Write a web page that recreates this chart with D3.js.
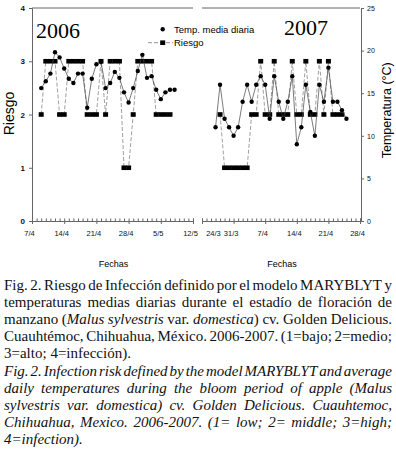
<!DOCTYPE html>
<html>
<head>
<meta charset="utf-8">
<script src="https://cdnjs.cloudflare.com/ajax/libs/d3/7.8.5/d3.min.js"></script>
<style>
  body { margin: 0; background: #fff; }
  svg { display: block; }
</style>
</head>
<body>
<div id="chart"></div>
<script>
// datos 2006 (un valor por día desde el 9/4)
const inicio2006 = new Date(2006, 3, 9);
const temp2006 = [15.6, 16.4, 17.3, 19.8, 19.2, 17.9, 16.7, 16.2, 17.3, 17.3,
                  13.3, 16.7, 18.4, 18.7, 15.6, 16.2, 17.5, 16.8, 15.1, 13.9,
                  15.6, 17.6, 19.5, 16.8, 17.0, 15.4, 14.3, 15.1, 15.4, 15.4];
const riesgo2006 = [2, 3, 3, 3, 2, 2, 3, 3, 3, 3,
                    2, 2, 2, 3, 2, 3, 3, 3, 1, 1,
                    2, 3, 3, 3, 3, 2, 2, 2, 2, null];

// datos 2007 (un valor por día desde el 27/3)
const inicio2007 = new Date(2007, 2, 27);
const temp2007 = [11, 16, 12, 11, 10, 11, 14, 16, 14, 16,
                  17, 16, 12, 17, 14, 12, 14, 17, 9, 11,
                  16, 12.8, 10, 16, 14, 18, 14, 14, 13, 12];
const riesgo2007 = [null, 2, 1, 1, 1, 1, 1, 1, 2, 2,
                    3, 2, 2, 3, 2, 2, 2, 3, 2, 2,
                    3, 2, 2, 3, 2, 3, 2, 2, 2, null];

const fechas2006 = ["7/4", "14/4", "21/4", "28/4", "5/5", "12/5"];
const fechas2007 = ["24/3", "31/3", "7/4", "14/4", "21/4", "28/4"];
const ticksRiesgo = [0, 1, 2, 3, 4];
const ticksTemp = [0, 5, 10, 15, 20, 25];

const leyenda = ["Temp. media diaria", "Riesgo"];

const caption = [
  { t: "Fig. 2. Riesgo de Infección definido por el modelo MARYBLYT y", j: true },
  { t: "temperaturas medias diarias durante el estadío de floración de", j: true },
  { t: "manzano (*Malus sylvestris* var. *domestica*) cv. Golden Delicious.", j: true },
  { t: "Cuauhtémoc, Chihuahua, México. 2006-2007. (1=bajo; 2=medio;", j: true },
  { t: "3=alto; 4=infección).", j: false },
  { t: "*Fig. 2. Infection risk defined by the model MARYBLYT and average", j: true },
  { t: "*daily temperatures during the bloom period of apple (Malus", j: true },
  { t: "*sylvestris var. domestica) cv. Golden Delicious. Cuauhtemoc,", j: true },
  { t: "*Chihuahua, Mexico. 2006-2007. (1= low; 2= middle; 3=high;", j: true },
  { t: "*4=infection).", j: false }
];

const width = 396, height = 449;
const sans = "'Liberation Sans', Arial, sans-serif";
const serif = "'Liberation Serif', 'Times New Roman', serif";

const svg = d3.select("#chart").append("svg")
  .attr("width", width)
  .attr("height", height);
svg.append("rect").attr("width", width).attr("height", height).attr("fill", "#fff");

const yRiesgo = d3.scaleLinear().domain([0, 4]).range([221, 8]);
const yTemp = d3.scaleLinear().domain([0, 25]).range([221, 8]);

function parseFecha(s, year) {
  const [d, m] = s.split("/").map(Number);
  return new Date(year, m - 1, d);
}

const paneles = [
  { year: 2006, inicio: inicio2006, temp: temp2006, riesgo: riesgo2006, fechas: fechas2006,
    range: [32, 193], titulo: "2006", tx: 36, ty: 38 },
  { year: 2007, inicio: inicio2007, temp: temp2007, riesgo: riesgo2007, fechas: fechas2007,
    range: [202, 360], titulo: "2007", tx: 284, ty: 35 }
];

paneles.forEach((p, pi) => {
  const tickDates = p.fechas.map(f => parseFecha(f, p.year));
  const x = d3.scaleTime()
    .domain([tickDates[0], tickDates[tickDates.length - 1]])
    .range(p.range);
  const dias = p.temp.map((_, i) => d3.timeDay.offset(p.inicio, i));

  const g = svg.append("g");

  // borde superior
  g.append("line")
    .attr("x1", p.range[0]).attr("x2", p.range[1])
    .attr("y1", yRiesgo(4)).attr("y2", yRiesgo(4))
    .attr("stroke", "#666").attr("stroke-width", 1);

  // eje x: ticks diarios
  const minor = g.append("g")
    .attr("transform", `translate(0,${yRiesgo(0)})`)
    .call(d3.axisBottom(x).ticks(d3.timeDay.every(1)).tickSize(-2.5).tickFormat(""));
  minor.select(".domain").attr("stroke", "#666");
  minor.selectAll(".tick line").attr("stroke", "#666");

  const major = g.append("g")
    .attr("transform", `translate(0,${yRiesgo(0)})`)
    .call(d3.axisBottom(x).tickValues(tickDates).tickSize(3).tickPadding(7)
      .tickFormat((d, i) => p.fechas[i]));
  major.select(".domain").remove();
  major.selectAll(".tick line").attr("stroke", "#666");
  major.selectAll(".tick text")
    .attr("font-family", sans).attr("font-size", 7.5).attr("fill", "#111")
    .attr("dx", (d, i) => (pi === 1 && i === 0) ? 11 : -3);

  g.append("text")
    .attr("x", (p.range[0] + p.range[1]) / 2 + 1)
    .attr("y", 267)
    .attr("text-anchor", "middle")
    .attr("font-family", sans).attr("font-size", 9)
    .text("Fechas");

  // línea de riesgo (discontinua)
  const lineaRiesgo = d3.line()
    .defined(d => d[1] != null)
    .x(d => x(d[0])).y(d => yRiesgo(d[1]));
  const ptsR = dias.map((d, i) => [d, p.riesgo[i]]);
  g.append("path")
    .attr("d", lineaRiesgo(ptsR))
    .attr("fill", "none").attr("stroke", "#888")
    .attr("stroke-width", 0.8).attr("stroke-dasharray", "4,2");

  g.selectAll("rect.riesgo")
    .data(ptsR.filter(d => d[1] != null))
    .enter().append("rect")
    .attr("class", "riesgo")
    .attr("x", d => x(d[0]) - 2.5).attr("y", d => yRiesgo(d[1]) - 2.3)
    .attr("width", 5).attr("height", 4.6)
    .attr("fill", "#000");

  // temperatura media diaria
  const lineaTemp = d3.line().x(d => x(d[0])).y(d => yTemp(d[1]));
  const ptsT = dias.map((d, i) => [d, p.temp[i]]);
  g.append("path")
    .attr("d", lineaTemp(ptsT))
    .attr("fill", "none").attr("stroke", "#444").attr("stroke-width", 0.7);
  g.selectAll("circle.temp")
    .data(ptsT)
    .enter().append("circle")
    .attr("class", "temp")
    .attr("cx", d => x(d[0])).attr("cy", d => yTemp(d[1]))
    .attr("r", 2.2).attr("fill", "#000");

  g.append("text")
    .attr("x", p.tx).attr("y", p.ty)
    .attr("font-family", serif).attr("font-size", 22)
    .text(p.titulo);
});

// eje izquierdo (riesgo)
const ejeIzq = svg.append("g")
  .attr("transform", "translate(32,0)")
  .call(d3.axisLeft(yRiesgo).tickValues(ticksRiesgo).tickSize(3).tickPadding(4).tickFormat(d3.format("d")));
ejeIzq.select(".domain").attr("stroke", "#666");
ejeIzq.selectAll(".tick line").attr("stroke", "#666");
ejeIzq.selectAll(".tick text").attr("font-family", sans).attr("font-size", 8)
  .attr("font-weight", "bold").attr("fill", "#111");

svg.append("text")
  .attr("transform", `translate(14,${yRiesgo(2) - 1}) rotate(-90)`)
  .attr("text-anchor", "middle")
  .attr("font-family", sans).attr("font-size", 14)
  .text("Riesgo");

// eje derecho (temperatura)
const ejeDer = svg.append("g")
  .attr("transform", "translate(361,0)")
  .call(d3.axisRight(yTemp).tickValues(ticksTemp).tickSize(3).tickPadding(3));
ejeDer.select(".domain").attr("stroke", "#666");
ejeDer.selectAll(".tick line").attr("stroke", "#666");
ejeDer.selectAll(".tick text").attr("font-family", sans).attr("font-size", 7).attr("fill", "#111");

svg.append("text")
  .attr("transform", `translate(391,${yTemp(13)}) rotate(-90)`)
  .attr("text-anchor", "middle")
  .attr("font-family", sans).attr("font-size", 12.5)
  .text("Temperatura (°C)");

// leyenda
const ley = svg.append("g").attr("font-family", sans).attr("font-size", 9.5);
ley.append("circle").attr("cx", 162.7).attr("cy", 29.3).attr("r", 2.2).attr("fill", "#000");
ley.append("text").attr("x", 174).attr("y", 32.6).text(leyenda[0]);
ley.append("line").attr("x1", 148).attr("x2", 173).attr("y1", 42.7).attr("y2", 42.7)
  .attr("stroke", "#777").attr("stroke-width", 0.8).attr("stroke-dasharray", "4,2");
ley.append("rect").attr("x", 160.2).attr("y", 40.4).attr("width", 5).attr("height", 4.6).attr("fill", "#000");
ley.append("text").attr("x", 174).attr("y", 46).text(leyenda[1]);

// pie de figura justificado
const capX0 = 4, capX1 = 392, capY0 = 290, capLH = 17.1;
caption.forEach((ln, li) => {
  let italic = false;
  const words = ln.t.split(" ").map(w => {
    const segs = [];
    let cur = "";
    for (const ch of w) {
      if (ch === "*") {
        if (cur) segs.push({ s: cur, it: italic });
        cur = "";
        italic = !italic;
      } else cur += ch;
    }
    if (cur) segs.push({ s: cur, it: italic });
    return segs;
  });
  const y = capY0 + li * capLH;
  const nodes = words.map(segs => {
    const t = svg.append("text")
      .attr("y", y)
      .attr("font-family", serif).attr("font-size", 15).attr("fill", "#111");
    segs.forEach(sg => t.append("tspan").attr("font-style", sg.it ? "italic" : "normal").text(sg.s));
    return t;
  });
  const ws = nodes.map(n => n.node().getComputedTextLength());
  const total = d3.sum(ws);
  const space = 3.75;
  const gap = ln.j && nodes.length > 1 ? (capX1 - capX0 - total) / (nodes.length - 1) : space;
  let cx = capX0;
  nodes.forEach((n, i) => {
    n.attr("x", cx);
    cx += ws[i] + gap;
  });
});
</script>
</body>
</html>
